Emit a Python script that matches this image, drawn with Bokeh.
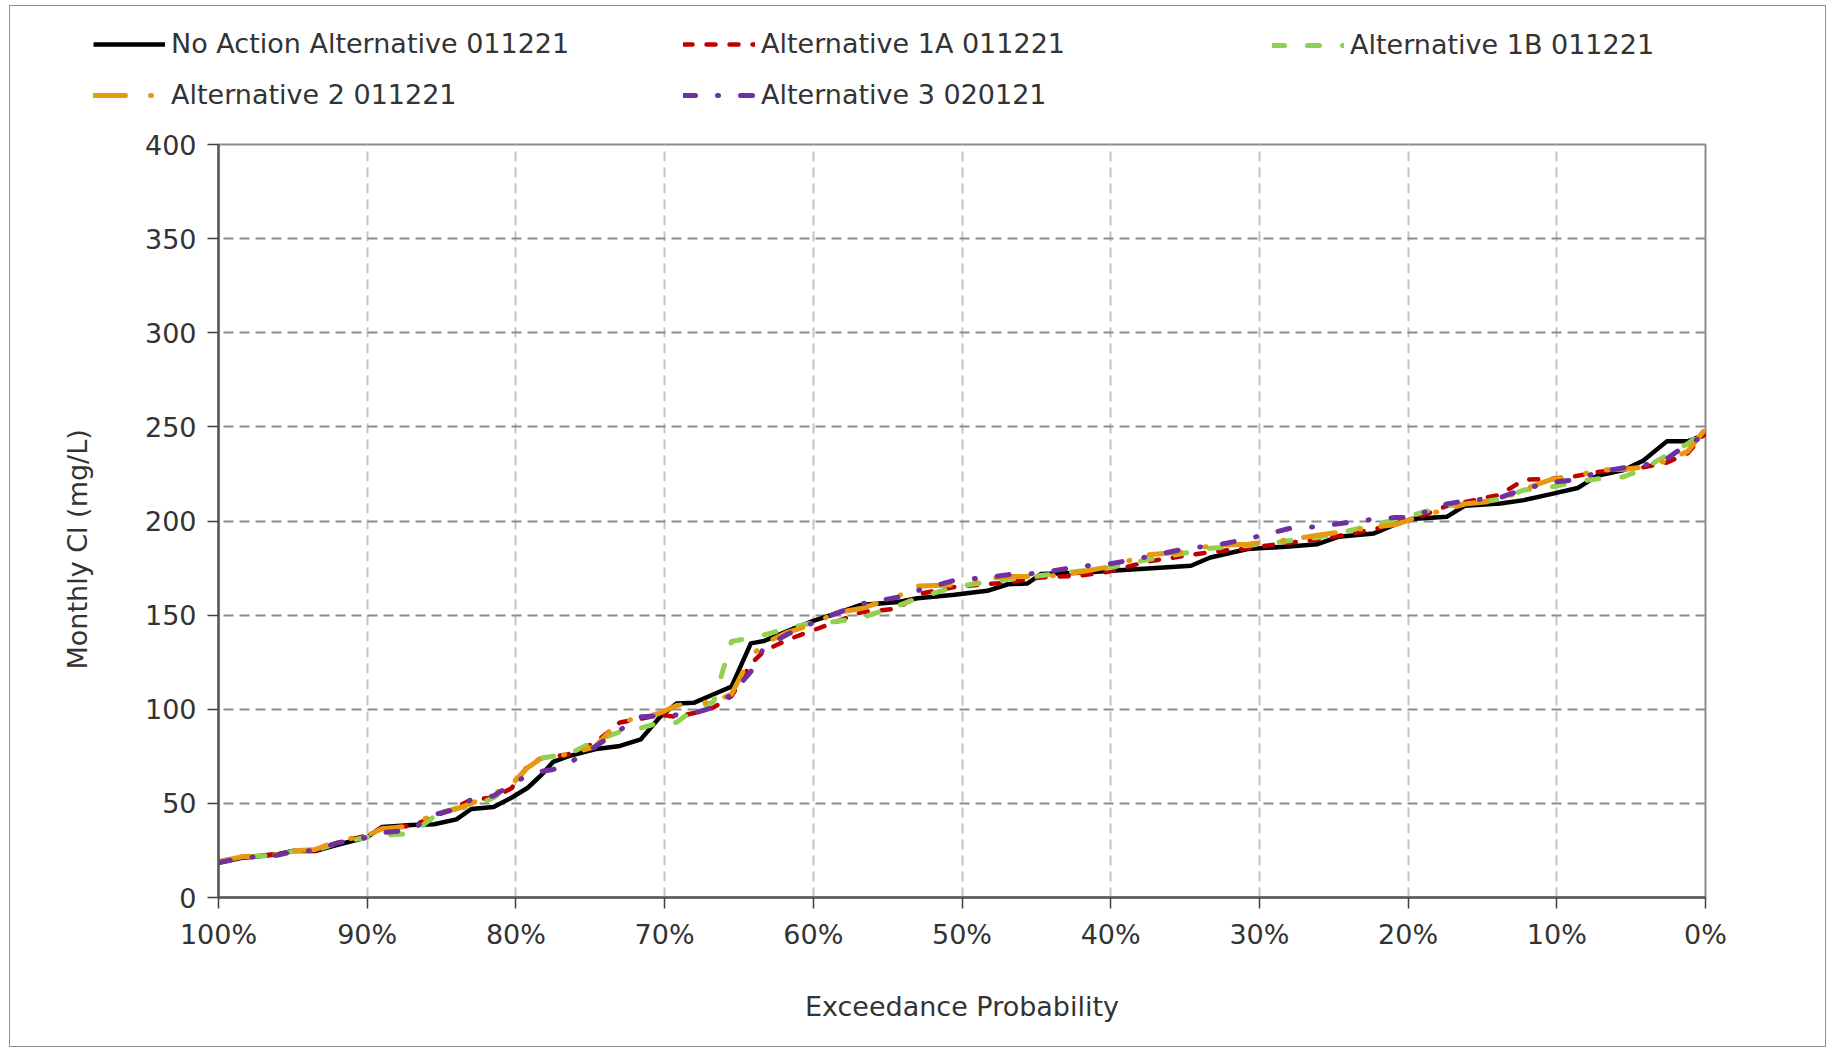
from bokeh.plotting import figure
from bokeh.layouts import column
from bokeh.models import Legend, LegendItem, FixedTicker, PrintfTickFormatter, Range1d, Title
from bokeh.embed import file_html
from bokeh.resources import INLINE

# ---- data ----
exceedance = [100, 98.5, 96, 95, 93.5, 92, 90, 89, 87, 85.5, 84, 83, 81.5, 80.3, 79.2,
              78.3, 77.5, 76.5, 74.7, 73, 71.6, 70.3, 69.2, 68, 66.7, 65.5, 64.2, 63.3, 61.7, 60,
              58.6, 56.8, 54.3, 53, 50.5, 48.3, 46.9, 45.6, 44.7, 42, 40.2, 37.5, 34.6, 33.3, 30.8,
              28, 26.1, 24.7, 22.3, 20.9, 19.8, 17.4, 16.2, 13.8, 12.2, 10.4, 8.6, 7.3, 5.5, 4.2,
              2.6, 1.2, 0]

no_action = [18.4, 21, 23, 24.7, 24.7, 28, 32, 37.5, 38.5, 38.9, 41.5, 47, 48.1, 53, 58.3,
             65, 72, 75, 78.7, 80.5, 84, 96, 103, 103.5, 108, 112, 135, 136.3, 141.6, 146.9,
             150.5, 155.4, 157, 159, 160.8, 162.9, 166.4, 166.8, 171.8, 172.5, 173.5, 174.8, 176.2, 180.6, 185.1,
             186.5, 187.7, 191.6, 193.4, 198, 201, 202.2, 208.1, 209.3, 211.1, 214.3, 217.5, 224, 227.1, 232,
             242.3, 242.3, 246]

alt_1a = [19, 21.5, 23, 24.7, 25, 29, 33, 37, 38, 43, 48, 52, 53, 58, 70,
          74, 75, 76, 82, 93, 95, 97, 96, 98, 101, 107, 124, 131, 137, 142,
          146, 151.5, 153.5, 161, 165, 166.5, 167.3, 169, 170, 171, 173, 178.5, 182, 183.5, 185.5,
          188.5, 190, 192, 195.5, 199, 200.5, 208, 210, 214, 222, 222.3, 224, 226, 227.5, 228.5,
          231, 236, 247]

alt_1b = [19, 21.5, 22.5, 24.5, 25, 29, 32, 33, 34, 43, 47.5, 48, 53, 60, 69,
          74, 75, 76, 83, 88, 90, 93, 93, 100, 104, 136, 138, 139.5, 143, 146,
          146.5, 148.5, 155, 159, 165, 167.5, 169, 170, 171, 173.5, 175, 179.5, 183.5, 185.5, 187,
          189.5, 191.2, 193.5, 198, 200.5, 203, 208, 209, 211.5, 216.5, 218, 221, 222.3, 223.5, 227.5,
          235, 241, 248.5]

alt_2 = [19, 21.5, 23, 24.7, 25.5, 30, 33, 36.5, 38, 44.5, 47, 50, 55, 60, 69,
         74, 75, 76, 80, 93.8, 95, 98, 102, 103, 104, 108, 128, 135, 141, 145,
         151, 153.5, 160, 165.5, 166, 169.5, 170.5, 170.5, 170, 173, 175.5, 182, 184, 187, 187.7,
         190, 192.5, 194, 196.8, 198, 201, 206.3, 209, 211, 217, 222, 224, 227, 227.5, 228.5,
         232, 237, 249]

alt_3 = [18.5, 21, 22.5, 24.5, 25, 29, 32, 34.4, 36, 44, 47, 52, 54, 60, 65,
         67, 68, 71, 80, 89, 96, 96.4, 97, 98, 101, 108, 120, 133, 140, 146,
         150.5, 156, 159.5, 163, 168.5, 170, 171.5, 171.8, 172.5, 176, 177, 181, 186, 186.5, 190.5,
         196, 197, 198.5, 201, 201.8, 202, 209, 210.7, 212.5, 217, 220.5, 222, 225.8, 228.3, 229.5,
         233, 241, 245.3]

series_names = ["No Action Alternative 011221", "Alternative 1A 011221", "Alternative 1B 011221",
                "Alternative 2 011221", "Alternative 3 020121"]
x_ticks = [100, 90, 80, 70, 60, 50, 40, 30, 20, 10, 0]
y_ticks = [0, 50, 100, 150, 200, 250, 300, 350, 400]

FONT = "DejaVu Sans"
TEXT_COLOR = "#333333"

styles = [
    dict(line_color="#000000", line_width=4.5, line_join="round"),
    dict(line_color="#C00000", line_width=4.5, line_dash="9 14", line_cap="round", line_join="round"),
    dict(line_color="#92D050", line_width=5, line_dash="12 23", line_cap="round", line_join="round"),
    dict(line_color="#E8990F", line_width=5, line_dash="32 25 1 20", line_cap="round", line_join="round"),
    dict(line_color="#7030A0", line_width=5, line_dash="12 22 1 22", line_cap="round", line_join="round"),
]
series_values = [no_action, alt_1a, alt_1b, alt_2, alt_3]

# ---- main chart ----
p = figure(frame_width=1487, frame_height=753,
           min_border_left=208, min_border_right=120, min_border_top=16, min_border_bottom=149,
           x_range=Range1d(100, 0), y_range=Range1d(0, 400),
           output_backend="svg", toolbar_location=None)

p.outline_line_color = "#8c8c8c"
p.outline_line_width = 2

for ax in (p.xaxis[0], p.yaxis[0]):
    ax.axis_line_color = "#595959"
    ax.axis_line_width = 2.5
    ax.major_tick_line_color = "#404040"
    ax.major_tick_line_width = 1.5
    ax.major_tick_in = 0
    ax.major_tick_out = 11
    ax.minor_tick_line_color = None
    ax.axis_label_text_font = FONT
    ax.axis_label_text_font_size = "27px"
    ax.axis_label_text_font_style = "normal"
    ax.axis_label_text_color = TEXT_COLOR
    ax.major_label_text_font = FONT
    ax.major_label_text_font_size = "27px"
    ax.major_label_text_color = TEXT_COLOR

p.xaxis.ticker = FixedTicker(ticks=x_ticks)
p.xaxis.formatter = PrintfTickFormatter(format="%d%%")
p.xaxis.major_label_standoff = 10
p.xaxis.axis_label = "Exceedance Probability"
p.xaxis.axis_label_standoff = 38

p.yaxis.ticker = FixedTicker(ticks=y_ticks)
p.yaxis.major_label_standoff = 11

# y-axis title, placed a little below the frame centre as in the reference
p.add_layout(Title(text="Monthly Cl (mg/L)", align="left", offset=228,
                   text_font=FONT, text_font_size="27px", text_font_style="normal",
                   text_color=TEXT_COLOR, standoff=98), "left")

p.ygrid.grid_line_color = "#8c8c8c"
p.ygrid.grid_line_width = 2
p.ygrid.grid_line_dash = "10 6"
p.xgrid.grid_line_color = "#c4c4c4"
p.xgrid.grid_line_width = 2
p.xgrid.grid_line_dash = "10 6"

for vals, st in zip(series_values, styles):
    p.line(exceedance, vals, **st)

# ---- legend strip above the chart ----
lg = figure(frame_width=1815, frame_height=122, min_border=0,
            x_range=Range1d(0, 1), y_range=Range1d(0, 1),
            x_axis_type=None, y_axis_type=None,
            output_backend="svg", toolbar_location=None)
lg.outline_line_color = None
lg.xgrid.visible = False
lg.ygrid.visible = False
# off-range placeholder lines, used only to draw the legend keys
key_renderers = [lg.line(x=[-5, -4], y=[-5, -4], **st) for st in styles]

columns = [[0, 3], [1, 4], [2]]
col_x = [83, 673, 1262]
for cols, lx in zip(columns, col_x):
    leg = Legend(items=[LegendItem(label=series_names[i], renderers=[key_renderers[i]]) for i in cols],
                 location=(lx, 18 if len(cols) == 2 else 68),
                 orientation="vertical",
                 glyph_width=72, glyph_height=30, label_height=30, label_standoff=6,
                 spacing=20, padding=0, margin=0,
                 border_line_alpha=0, background_fill_alpha=0,
                 label_text_font=FONT, label_text_font_size="27px",
                 label_text_color=TEXT_COLOR)
    lg.add_layout(leg, "center")

layout = column(lg, p, spacing=0, margin=(5, 0, 0, 9),
                styles={"border": "1px solid #8c8c8c"})

open("out.html", "w").write(file_html(layout, INLINE))
